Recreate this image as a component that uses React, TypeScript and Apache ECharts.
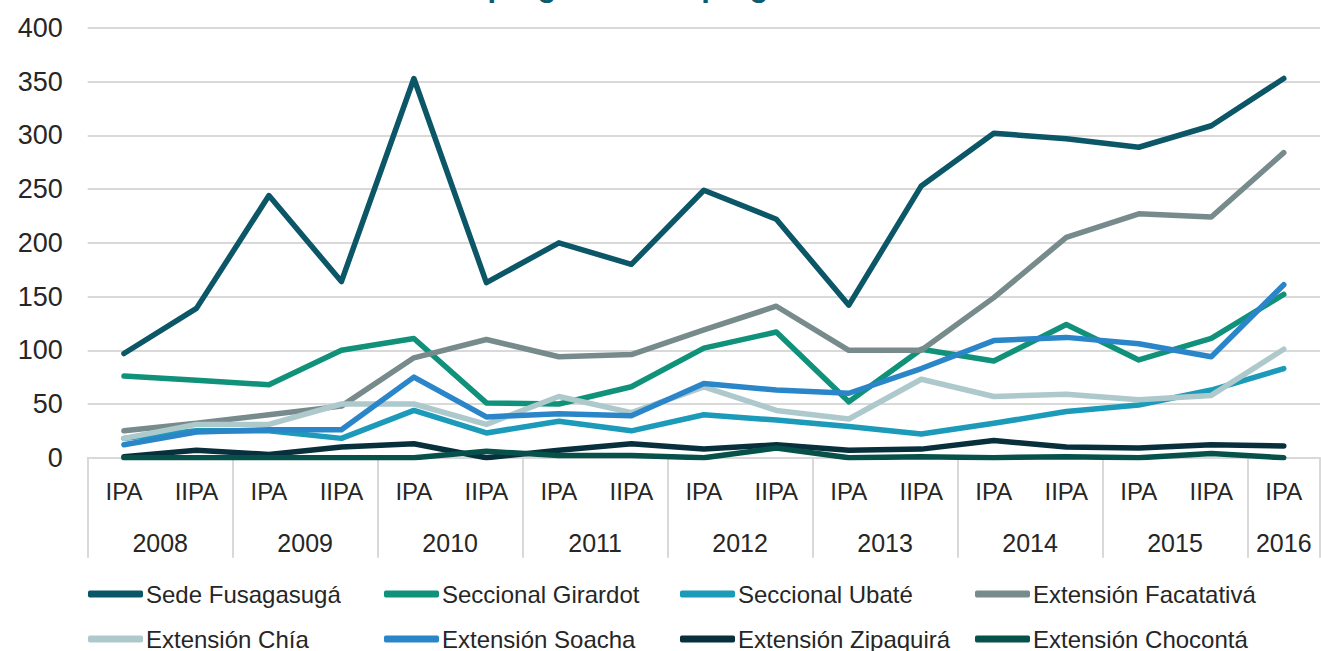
import React, { useEffect, useRef } from 'react';
import * as echarts from 'echarts';

const categories = ['IPA', 'IIPA', 'IPA', 'IIPA', 'IPA', 'IIPA', 'IPA', 'IIPA', 'IPA', 'IIPA', 'IPA', 'IIPA', 'IPA', 'IIPA', 'IPA', 'IIPA', 'IPA'];
const years = ['2008', '2009', '2010', '2011', '2012', '2013', '2014', '2015', '2016'];
const yTicks = [0, 50, 100, 150, 200, 250, 300, 350, 400];

const sedeFusagasuga = [97, 139, 244, 164, 353, 163, 200, 180, 249, 222, 142, 253, 302, 297, 289, 309, 353];
const seccionalGirardot = [76, 72, 68, 100, 111, 51, 50, 66, 102, 117, 52, 101, 90, 124, 91, 111, 152];
const seccionalUbate = [18, 25, 25, 18, 44, 23, 34, 25, 40, 35, 29, 22, 32, 43, 49, 63, 83];
const extFacatativa = [25, 32, 40, 48, 93, 110, 94, 96, 119, 141, 100, 100, 149, 205, 227, 224, 284];
const extChia = [18, 31, 31, 50, 50, 31, 57, 42, 66, 44, 36, 73, 57, 59, 54, 58, 101];
const extSoacha = [12, 24, 26, 26, 75, 38, 41, 39, 69, 63, 60, 83, 109, 112, 106, 94, 161];
const extZipaquira = [1, 7, 3, 10, 13, 0, 7, 13, 8, 12, 7, 8, 16, 10, 9, 12, 11];
const extChoconta = [0, 0, 0, 0, 0, 6, 2, 2, 0, 9, 0, 1, 0, 1, 0, 4, 0];

const seriesNames = [
  'Sede Fusagasugá',
  'Seccional Girardot',
  'Seccional Ubaté',
  'Extensión Facatativá',
  'Extensión Chía',
  'Extensión Soacha',
  'Extensión Zipaquirá',
  'Extensión Chocontá',
];
const seriesData = [sedeFusagasuga, seccionalGirardot, seccionalUbate, extFacatativa, extChia, extSoacha, extZipaquira, extChoconta];
const seriesColors = ['#0b5667', '#10917a', '#1b9ab9', '#778b8c', '#adc9cc', '#2a86c8', '#072f3c', '#06514a'];

const titleText = 'programas de pregrado';

const FONT = '"Liberation Sans", Arial, sans-serif';

export default function App() {
  const ref = useRef<HTMLDivElement>(null);

  useEffect(() => {
    if (!ref.current) return;
    const chart = echarts.init(ref.current, null, { renderer: 'svg' });

    // year group centers (in category units) derived from the categories: each year starts with 'IPA'
    const yearCenters: number[] = [];
    let start = 0;
    for (let i = 1; i <= categories.length; i++) {
      if (i === categories.length || categories[i] === 'IPA') {
        yearCenters.push((start + i) / 2);
        start = i;
      }
    }

    const legendCols = [88, 384, 680, 975];
    const legendRows = [582, 627];
    const legends = seriesNames.map((name, k) => ({
      data: [name],
      left: legendCols[k % 4],
      top: legendRows[Math.floor(k / 4)],
      padding: 0,
      icon: 'roundRect',
      itemWidth: 55,
      itemHeight: 7,
      itemGap: 0,
      textStyle: { fontFamily: FONT, fontSize: 24, color: '#262626', padding: [0, 0, 0, -2] },
      itemStyle: { borderWidth: 0 },
    }));

    const option: any = {
      animation: false,
      backgroundColor: '#ffffff',
      title: {
        text: titleText,
        left: 'center',
        top: -35,
        textStyle: { fontFamily: FONT, fontWeight: 'bold', fontSize: 31, color: '#0d5b70' },
      },
      legend: legends,
      grid: { left: 87.7, right: 0, top: 28, bottom: 193.3, containLabel: false },
      xAxis: [
        {
          type: 'category',
          data: categories,
          boundaryGap: true,
          axisLine: { show: true, lineStyle: { color: '#d9d9d9', width: 2 } },
          axisTick: {
            show: true,
            interval: (index: number) => categories[index] === 'IPA',
            length: 100,
            lineStyle: { color: '#d9d9d9', width: 2 },
          },
          axisLabel: { interval: 0, margin: 22, fontFamily: FONT, fontSize: 24, color: '#262626' },
          splitLine: { show: false },
        },
        {
          type: 'value',
          position: 'bottom',
          min: 0,
          max: categories.length,
          interval: 0.5,
          axisLine: { show: false },
          axisTick: { show: false },
          splitLine: { show: false },
          axisLabel: {
            margin: 73,
            fontFamily: FONT,
            fontSize: 25,
            color: '#262626',
            showMinLabel: true,
            showMaxLabel: true,
            formatter: (v: number) => {
              const k = yearCenters.findIndex((c) => Math.abs(c - v) < 1e-6);
              return k >= 0 ? years[k] : '';
            },
          },
        },
      ],
      yAxis: {
        type: 'value',
        min: yTicks[0],
        max: yTicks[yTicks.length - 1],
        interval: yTicks[1] - yTicks[0],
        axisLine: { show: false },
        axisTick: { show: false },
        axisLabel: { margin: 25, fontFamily: FONT, fontSize: 27, color: '#262626' },
        splitLine: { show: true, lineStyle: { color: '#d9d9d9', width: 2 } },
      },
      series: seriesNames.map((name, k) => ({
        name,
        type: 'line',
        xAxisIndex: 0,
        data: seriesData[k],
        symbol: 'none',
        smooth: false,
        color: seriesColors[k],
        lineStyle: { width: 5.5, color: seriesColors[k], cap: 'round', join: 'round' },
        emphasis: { disabled: true },
      })),
    };

    chart.setOption(option);
    return () => chart.dispose();
  }, []);

  return (
    <div style={{ position: 'absolute', left: 0, top: 0, width: 1321, height: 651, overflow: 'hidden', background: '#fff' }}>
      <div ref={ref} style={{ width: 1323, height: 651 }} />
    </div>
  );
}
